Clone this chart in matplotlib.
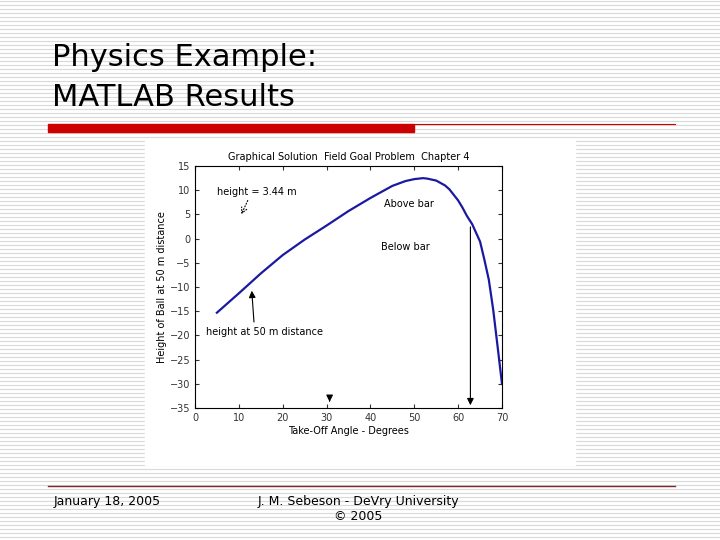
import numpy as np
import matplotlib.pyplot as plt
from matplotlib.patches import Rectangle

# data
angle = [5, 10, 15, 20, 25, 30, 35, 40, 45, 48, 50, 52, 53, 55, 57, 58, 60, 61, 62, 63.2,
         64, 65, 66, 67, 68, 69, 70]
height = [-15.3, -11.3, -7.2, -3.4, -0.2, 2.7, 5.7, 8.4, 10.9, 11.9, 12.3, 12.5, 12.4, 12.0,
          11.0, 10.2, 7.9, 6.4, 4.7, 3.0, 1.4, -0.6, -4.4, -8.5, -14.7, -22.3, -30.0]
xticks = [0, 10, 20, 30, 40, 50, 60, 70]
yticks = [15, 10, 5, 0, -5, -10, -15, -20, -25, -30, -35]

fig = plt.figure(figsize=(7.2, 5.4), dpi=100)

# slide background: horizontal pin stripes
bg = fig.add_axes([0, 0, 1, 1])
bg.set_xlim(0, 720)
bg.set_ylim(540, 0)
bg.axis('off')
for y in np.arange(1, 540, 4):
    bg.plot([0, 720], [y, y], color='#d9d9d9', lw=0.8)
bg.add_patch(Rectangle((145, 140), 430, 325, color='white', zorder=2))
bg.add_patch(Rectangle((48, 124), 366, 8, color='#cc0000', zorder=3))
bg.plot([414, 675], [124, 124], color='#cc0000', lw=0.8, zorder=3)
bg.plot([48, 675], [486, 486], color='#7a2a2a', lw=1, zorder=3)
bg.text(52, 58, 'Physics Example:', fontsize=22, family='DejaVu Sans', va='center', zorder=4)
bg.text(52, 98, 'MATLAB Results', fontsize=22, family='DejaVu Sans', va='center', zorder=4)
bg.text(54, 502, 'January 18, 2005', fontsize=9, family='DejaVu Sans', va='center', zorder=4)
bg.text(358, 502, 'J. M. Sebeson - DeVry University', fontsize=9, family='DejaVu Sans',
        ha='center', va='center', zorder=4)
bg.text(358, 517, '© 2005', fontsize=9, family='DejaVu Sans', ha='center', va='center', zorder=4)

ax = fig.add_axes([0.2708, 0.2444, 0.4264, 0.4481])
ax.plot(angle, height, color='#1a1aa0', lw=1.6)
ax.set_xlim(0, 70)
ax.set_ylim(-35, 15)
ax.set_xticks(xticks)
ax.set_yticks(yticks)
ax.tick_params(direction='in', top=True, right=True, labelsize=7, length=3, colors='#333333')
for s in ax.spines.values():
    s.set_linewidth(0.8)
ax.set_title('Graphical Solution  Field Goal Problem  Chapter 4', fontsize=7, pad=4)
ax.set_xlabel('Take-Off Angle - Degrees', fontsize=7, labelpad=2)
ax.set_ylabel('Height of Ball at 50 m distance', fontsize=7, labelpad=2)

ax.text(5, 9.7, 'height = 3.44 m', fontsize=7, va='center')
ax.annotate('', xy=(10.3, 4.5), xytext=(12.3, 8.4),
            arrowprops=dict(arrowstyle='->', lw=0.8, linestyle=':'))
ax.text(2.4, -19.2, 'height at 50 m distance', fontsize=7, va='center')
ax.annotate('', xy=(12.9, -10.2), xytext=(13.5, -17.8),
            arrowprops=dict(arrowstyle='-|>', lw=0.8, color='black'))
ax.text(43.2, 7.2, 'Above bar', fontsize=7, va='center')
ax.text(42.4, -1.7, 'Below bar', fontsize=7, va='center')
ax.annotate('', xy=(62.8, -35), xytext=(62.8, 3.0),
            arrowprops=dict(arrowstyle='-|>', lw=0.8, color='black'))
ax.annotate('', xy=(30.7, -34.3), xytext=(30.7, -32.8),
            arrowprops=dict(arrowstyle='-|>', lw=0.8, color='black'))

fig.savefig('out.png', dpi=100)
